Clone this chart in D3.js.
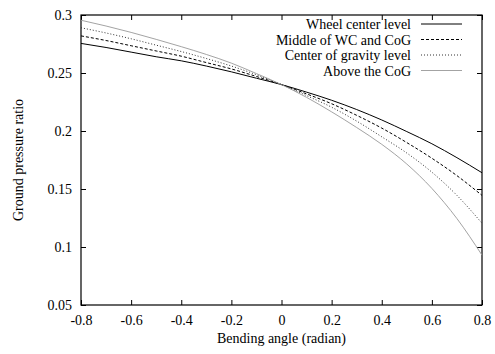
<!DOCTYPE html>
<html>
<head>
<meta charset="utf-8">
<script src="https://cdn.jsdelivr.net/npm/d3@7"></script>
<style>
  body { margin: 0; background: #fff; }
  text { font-family: "Liberation Serif", "Times New Roman", serif; fill: #000; }
</style>
</head>
<body>
<div id="chart"></div>
<script>
const angles = [-0.8, -0.7, -0.6, -0.5, -0.4, -0.3, -0.2, -0.1, 0, 0.1, 0.2, 0.3, 0.4, 0.5, 0.6, 0.7, 0.8];

const wheelCenter = [0.2755, 0.272, 0.268, 0.264, 0.2605, 0.256, 0.251, 0.2455, 0.240, 0.2335, 0.2265, 0.2185, 0.2095, 0.1995, 0.189, 0.177, 0.164];
const middleWcCog = [0.282, 0.278, 0.2735, 0.269, 0.2645, 0.259, 0.2535, 0.247, 0.240, 0.232, 0.2235, 0.2135, 0.2025, 0.190, 0.1765, 0.1615, 0.1445];
const cogLevel    = [0.289, 0.2845, 0.2795, 0.274, 0.2685, 0.2625, 0.256, 0.2485, 0.240, 0.2305, 0.2205, 0.2085, 0.195, 0.181, 0.1645, 0.1445, 0.1205];
const aboveCog    = [0.2955, 0.2905, 0.285, 0.279, 0.2727, 0.266, 0.2585, 0.2495, 0.240, 0.229, 0.2165, 0.203, 0.1885, 0.1715, 0.1505, 0.1245, 0.093];

const seriesNames = ["Wheel center level", "Middle of WC and CoG", "Center of gravity level", "Above the CoG"];
const xTicks = [-0.8, -0.6, -0.4, -0.2, 0, 0.2, 0.4, 0.6, 0.8];
const yTicks = [0.05, 0.1, 0.15, 0.2, 0.25, 0.3];

const width = 495, height = 354;
const m = { left: 81, right: 482, top: 15, bottom: 305 };
const serif = "'Liberation Serif', 'Times New Roman', serif";

const styles = [
  { stroke: "#000", dash: null, w: 1 },
  { stroke: "#000", dash: "3,2", w: 1 },
  { stroke: "#333", dash: "1,2", w: 1 },
  { stroke: "#999", dash: null, w: 0.9 }
];

const svg = d3.select("#chart").append("svg")
  .attr("width", width)
  .attr("height", height);

const x = d3.scaleLinear().domain([-0.8, 0.8]).range([m.left, m.right]);
const y = d3.scaleLinear().domain([0.05, 0.3]).range([m.bottom, m.top]);

const fmt = d => d === 0 ? "0" : String(d);

// axes with inward ticks, mirrored on top and right
svg.append("g")
  .attr("transform", `translate(0,${m.bottom})`)
  .call(d3.axisBottom(x).tickValues(xTicks).tickSizeInner(-5).tickSizeOuter(0).tickPadding(10).tickFormat(fmt))
  .attr("font-family", serif).attr("font-size", 14);
svg.append("g")
  .attr("transform", `translate(0,${m.top})`)
  .call(d3.axisTop(x).tickValues(xTicks).tickSizeInner(-5).tickSizeOuter(0).tickFormat(""));
svg.append("g")
  .attr("transform", `translate(${m.left},0)`)
  .call(d3.axisLeft(y).tickValues(yTicks).tickSizeInner(-5).tickSizeOuter(0).tickPadding(9).tickFormat(fmt))
  .attr("font-family", serif).attr("font-size", 14);
svg.append("g")
  .attr("transform", `translate(${m.right},0)`)
  .call(d3.axisRight(y).tickValues(yTicks).tickSizeInner(-5).tickSizeOuter(0).tickFormat(""));

svg.selectAll(".domain").remove();
svg.append("rect")
  .attr("x", m.left).attr("y", m.top)
  .attr("width", m.right - m.left).attr("height", m.bottom - m.top)
  .attr("fill", "none").attr("stroke", "#000").attr("stroke-width", 1.2);

const series = [wheelCenter, middleWcCog, cogLevel, aboveCog];
const line = d3.line()
  .x((d, i) => x(angles[i]))
  .y(d => y(d))
  .curve(d3.curveMonotoneX);

series.forEach((vals, k) => {
  svg.append("path")
    .datum(vals)
    .attr("d", line)
    .attr("fill", "none")
    .attr("stroke", styles[k].stroke)
    .attr("stroke-width", styles[k].w)
    .attr("stroke-dasharray", styles[k].dash);
});

// legend
const legend = svg.append("g").attr("font-family", serif);
seriesNames.forEach((name, k) => {
  const ly = 24 + k * 15.5;
  legend.append("text")
    .attr("x", 411).attr("y", ly + 5)
    .attr("text-anchor", "end")
    .attr("font-size", 14)
    .text(name);
  legend.append("line")
    .attr("x1", 421).attr("x2", 462)
    .attr("y1", ly).attr("y2", ly)
    .attr("stroke", styles[k].stroke)
    .attr("stroke-width", styles[k].w)
    .attr("stroke-dasharray", styles[k].dash);
});

svg.append("text")
  .attr("x", (m.left + m.right) / 2).attr("y", 343)
  .attr("text-anchor", "middle")
  .attr("font-family", serif)
  .attr("font-size", 14)
  .text("Bending angle (radian)");

svg.append("text")
  .attr("transform", `translate(23,${(m.top + m.bottom) / 2}) rotate(-90)`)
  .attr("text-anchor", "middle")
  .attr("font-family", serif)
  .attr("font-size", 14)
  .text("Ground pressure ratio");
</script>
</body>
</html>
